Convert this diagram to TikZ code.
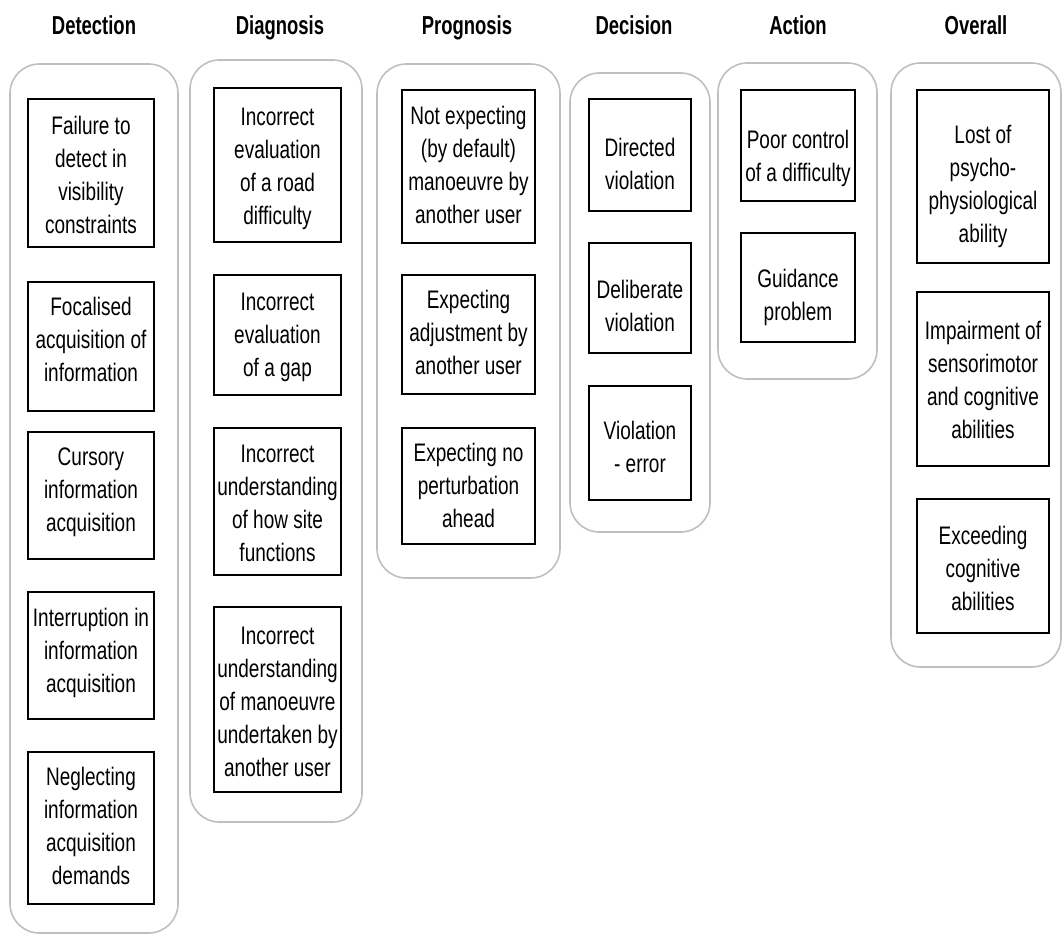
\documentclass[tikz,border=0pt]{standalone}
\usepackage{fontspec}
\setmainfont{Liberation Sans}[FakeStretch=0.75]
\newfontfamily\headfont{Liberation Sans}[FakeStretch=0.71]
\begin{document}
% coordinates are given in pixels (1px = 0.75pt), y pointing down
% frame: name, x1, y1, x2, y2
\newcommand\pxpanel[5]{%
  \node[panel, minimum width={(#4-#2)*0.75pt}, minimum height={(#5-#3)*0.75pt}]
    (#1) at ({(#2+#4)/2},{(#3+#5)/2}) {};}
% entry box: name, x1, y1, x2, y2, text, downward text offset
\newcommand\pxbox[7]{%
  \node[item, minimum width={(#4-#2)*0.75pt}, minimum height={(#5-#3)*0.75pt}]
    (#1) at ({(#2+#4)/2},{(#3+#5)/2}) {};
  \node[itemtext] (#1t) at ([yshift={-(#7)*0.75pt}]#1.center) {#6};}
\begin{tikzpicture}[x=0.75pt,y=-0.75pt,
  panel/.style={draw=black!25, line width=1.2pt, rounded corners=22pt, inner sep=0pt},
  item/.style={draw=black, line width=1.4pt, fill=white, inner sep=0pt},
  itemtext/.style={align=center, inner sep=0pt, font=\fontsize{19}{24.75}\selectfont},
  head/.style={anchor=base, inner sep=0pt, font=\fontsize{19.5}{22}\headfont\bfseries}]
\useasboundingbox (0,0) rectangle (1063,936);

% column headings
\node[head] (hdet)  at (94,34)  {Detection};
\node[head] (hdia)  at (280,34) {Diagnosis};
\node[head] (hpro)  at (467,34) {Prognosis};
\node[head] (hdec)  at (634,34) {Decision};
\node[head] (hact)  at (798,34) {Action};
\node[head] (hall)  at (976,34) {Overall};

% rounded column frames
\pxpanel{pdet}{10}{64}{178}{933}
\pxpanel{pdia}{190}{60}{362}{822}
\pxpanel{ppro}{377}{64}{560}{578}
\pxpanel{pdec}{570}{73}{710}{532}
\pxpanel{pact}{718}{63}{877}{379}
\pxpanel{pall}{891}{63}{1061}{667}

% Detection
\pxbox{d1}{28}{99}{154}{247}{Failure to\\detect in\\visibility\\constraints}{2}
\pxbox{d2}{28}{282}{154}{411}{Focalised\\acquisition of\\information}{-7}
\pxbox{d3}{28}{432}{154}{559}{Cursory\\information\\acquisition}{-3}
\pxbox{d4}{28}{592}{154}{719}{Interruption in\\information\\acquisition}{-3}
\pxbox{d5}{28}{752}{154}{904}{Neglecting\\information\\acquisition\\demands}{-2}

% Diagnosis
\pxbox{g1}{214}{88}{341}{242}{Incorrect\\evaluation\\of a road\\difficulty}{4}
\pxbox{g2}{214}{275}{341}{395}{Incorrect\\evaluation\\of a gap}{2}
\pxbox{g3}{214}{428}{341}{575}{Incorrect\\understanding\\of how site\\functions}{2}
\pxbox{g4}{214}{607}{341}{792}{Incorrect\\understanding\\of manoeuvre\\undertaken by\\another user}{2}

% Prognosis
\pxbox{p1}{402}{90}{535}{243}{Not expecting\\(by default)\\manoeuvre by\\another user}{-2}
\pxbox{p2}{402}{275}{535}{394}{Expecting\\adjustment by\\another user}{-2}
\pxbox{p3}{402}{428}{535}{544}{Expecting no\\perturbation\\ahead}{-1}

% Decision
\pxbox{c1}{589}{99}{691}{211}{Directed\\violation}{9}
\pxbox{c2}{589}{243}{691}{353}{Deliberate\\violation}{8}
\pxbox{c3}{589}{386}{691}{500}{Violation\\- error}{4}

% Action
\pxbox{a1}{741}{90}{855}{201}{Poor control\\of a difficulty}{13}
\pxbox{a2}{741}{233}{855}{342}{Guidance\\problem}{10}

% Overall
\pxbox{o1}{917}{90}{1049}{263}{Lost of\\psycho-\\physiological\\ability}{10}
\pxbox{o2}{917}{292}{1049}{466}{Impairment of\\sensorimotor\\and cognitive\\abilities}{1}
\pxbox{o3}{917}{499}{1049}{633}{Exceeding\\cognitive\\abilities}{2}
\end{tikzpicture}
\end{document}
